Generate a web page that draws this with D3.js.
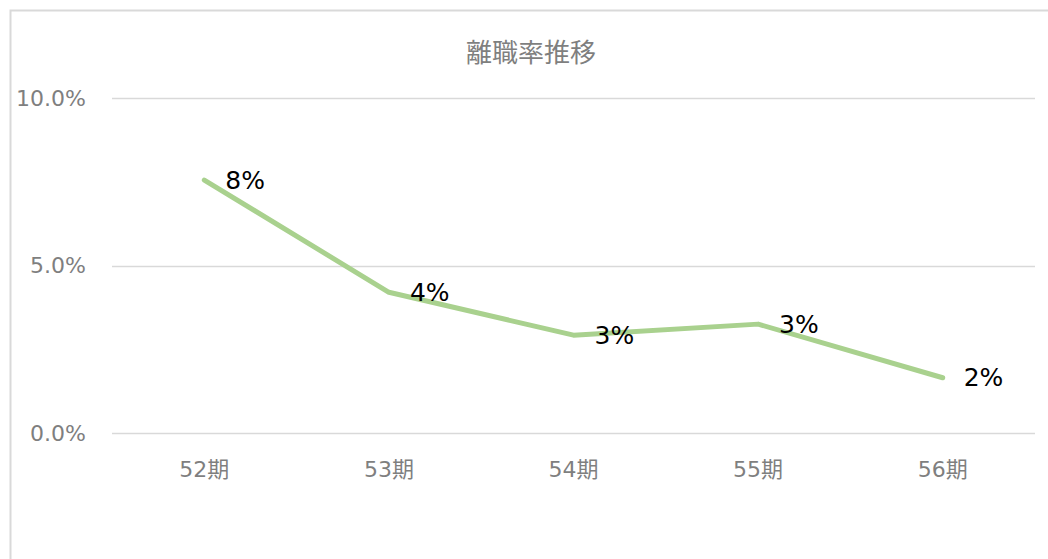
<!DOCTYPE html>
<html>
<head>
<meta charset="utf-8">
<script src="https://cdn.jsdelivr.net/npm/d3@7"></script>
<style>
  body { margin: 0; background: #fff; }
  text { font-family: "DejaVu Sans", "Noto Sans CJK JP", sans-serif; }
</style>
</head>
<body>
<div id="chart"></div>
<script>
// data
const periods = ['52期', '53期', '54期', '55期', '56期'];
const rates = [7.55, 4.2, 2.92, 3.25, 1.65];
const rateLabels = ['8%', '4%', '3%', '3%', '2%'];
const yTicks = [0, 5, 10];
const title = '離職率推移';

const w = 1048, h = 559;
const m = {top: 98, left: 112, right: 13, bottom: 126};

const svg = d3.select('#chart').append('svg')
    .attr('width', w)
    .attr('height', h);

// chart area frame
svg.append('rect')
    .attr('x', 10.5).attr('y', 10.5)
    .attr('width', w).attr('height', h)
    .attr('fill', '#fff')
    .attr('stroke', '#d9d9d9')
    .attr('stroke-width', 2);

const x = d3.scaleBand()
    .domain(periods)
    .range([m.left, w - m.right]);

const y = d3.scaleLinear()
    .domain([0, 10])
    .range([h - m.bottom, m.top]);

// gridlines
svg.append('g')
    .selectAll('line')
    .data(yTicks)
    .enter()
    .append('line')
    .attr('x1', m.left)
    .attr('x2', w - m.right)
    .attr('y1', d => Math.round(y(d)) + 0.5)
    .attr('y2', d => Math.round(y(d)) + 0.5)
    .attr('stroke', '#d9d9d9')
    .attr('stroke-width', 1.5);

// y tick labels
svg.append('g')
    .selectAll('text')
    .data(yTicks)
    .enter()
    .append('text')
    .attr('x', 86)
    .attr('y', d => y(d))
    .attr('dy', '0.35em')
    .attr('text-anchor', 'end')
    .attr('font-size', 22)
    .attr('fill', '#7f7f7f')
    .text(d => d.toFixed(1) + '%');

// x labels
svg.append('g')
    .selectAll('text')
    .data(periods)
    .enter()
    .append('text')
    .attr('x', d => x(d) + x.bandwidth() / 2)
    .attr('y', 469)
    .attr('dy', '0.35em')
    .attr('text-anchor', 'middle')
    .attr('font-size', 22)
    .attr('fill', '#7f7f7f')
    .text(d => d);

// title
svg.append('text')
    .attr('x', 531)
    .attr('y', 53)
    .attr('dy', '0.35em')
    .attr('text-anchor', 'middle')
    .attr('font-size', 26)
    .attr('fill', '#7f7f7f')
    .text(title);

const line = d3.line()
    .x((d, i) => x(periods[i]) + x.bandwidth() / 2)
    .y(d => y(d));

svg.append('path')
    .datum(rates)
    .attr('d', line)
    .attr('fill', 'none')
    .attr('stroke', '#a9d18e')
    .attr('stroke-width', 5)
    .attr('stroke-linecap', 'round')
    .attr('stroke-linejoin', 'round');

// data labels, right of each point
svg.append('g')
    .selectAll('text')
    .data(rates)
    .enter()
    .append('text')
    .attr('x', (d, i) => x(periods[i]) + x.bandwidth() / 2 + 21)
    .attr('y', d => y(d))
    .attr('dy', '0.35em')
    .attr('font-size', 25)
    .attr('fill', '#000')
    .text((d, i) => rateLabels[i]);
</script>
</body>
</html>
